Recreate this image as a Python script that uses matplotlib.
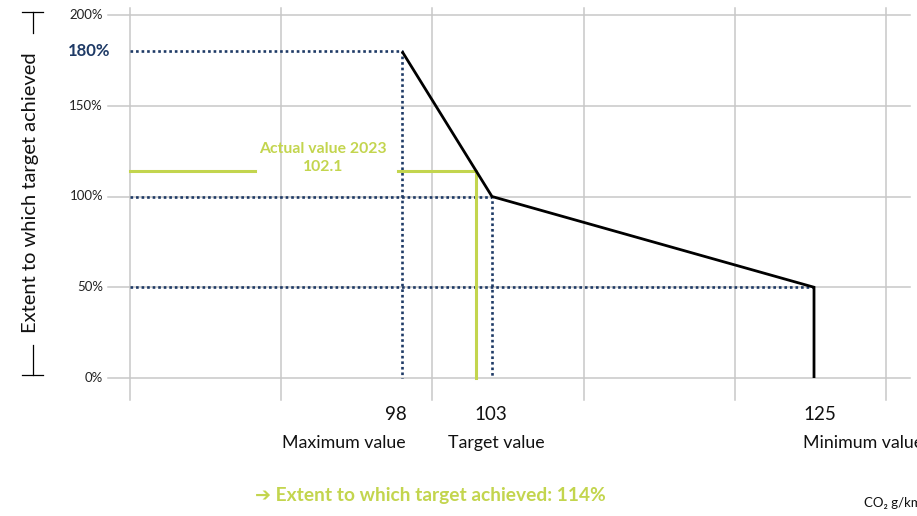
import numpy as np
import matplotlib
matplotlib.use("Agg")
from matplotlib import pyplot as plt
from matplotlib.lines import Line2D

plt.rcParams['font.family'] = ['Lato', 'DejaVu Sans']

# data
curve_x = [98, 103, 125, 125]          # CO2 g/km
curve_y = [180, 100, 50, 0]            # extent to which target achieved (%)
max_value, target_value, min_value = 98, 103, 125
max_pct, target_pct, min_pct = 180, 100, 50
actual_value = 102.1
actual_pct = 114
y_ticks = [0, 50, 100, 150, 200]
x_labels = ['Maximum value', 'Target value', 'Minimum value']

# the x axis is drawn schematically (not to scale): piecewise linear scale
# in "grid column" units, one unit per vertical gridline
XA = [60, 98, 103, 140]
UA = [-2.723, 1.799, 2.394, 5.976]


def fwd(v):
    return np.interp(v, XA, UA)


def inv(u):
    return np.interp(u, UA, XA)


W, H = 917, 516
fig = plt.figure(figsize=(W / 100, H / 100), dpi=100)
ax = fig.add_axes([0, 0, 1, 1])
ax.set_xscale('function', functions=(fwd, inv))
ax.set_xlim(inv(-130 / 151.2), inv((W - 130) / 151.2))
ax.set_ylim((378 - H) / 1.815, 378 / 1.815)
ax.axis('off')

grid_c = '#c8c8c8'
navy = '#1e3a66'
green = '#c3d54e'

# gridlines
x0 = inv(0)
for k in range(6):
    ax.plot([inv(k), inv(k)], [-12, 204], color=grid_c, lw=1.1, zorder=1)
for t in y_ticks:
    ax.plot([inv(-0.146), inv(5.16)], [t, t], color=grid_c, lw=1.1, zorder=1)

# dotted guides
dot = dict(color=navy, lw=1.9, ls=(0, (1, 1.1)), zorder=3)
ax.plot([x0, max_value, max_value], [max_pct, max_pct, 0], **dot)
ax.plot([x0, target_value, target_value], [target_pct, target_pct, 0], **dot)
ax.plot([x0, min_value], [min_pct, min_pct], **dot)

# actual value
ax.plot([x0, inv(0.827)], [actual_pct, actual_pct], color=green, lw=2.2, zorder=4)
ax.plot([inv(1.772), actual_value, actual_value], [actual_pct, actual_pct, 0],
        color=green, lw=2.2, zorder=4)

# curve
ax.plot(curve_x, curve_y, color='black', lw=2.0, zorder=5,
        solid_joinstyle='miter', solid_capstyle='butt')

# y tick labels
ytr = ax.get_yaxis_transform()
for t in y_ticks:
    ax.text(103 / W, t, f'{t}%', transform=ytr, ha='right', va='center',
            fontsize=9.5, color='#222222')
ax.text(110 / W, max_pct, f'{max_pct}%', transform=ytr, ha='right', va='center',
        fontsize=12, fontweight='bold', color=navy)

# x labels
xtr = ax.get_xaxis_transform()
specs = [(max_value, 'right', 5, 4), (target_value, 'center', -1, 4),
         (min_value, 'left', -11, -11)]
for (v, ha, dx_num, dx_lab), lab in zip(specs, x_labels):
    ax.annotate(str(v), xy=(v, 1 - 414 / H), xycoords=xtr, xytext=(dx_num, 0),
                textcoords='offset pixels', ha=ha, va='center', fontsize=13.5,
                color='#111111')
    ax.annotate(lab, xy=(v, 1 - 443 / H), xycoords=xtr, xytext=(dx_lab, 0),
                textcoords='offset pixels', ha=ha, va='center', fontsize=12.8,
                color='#111111')

fig.text(323 / W, 1 - 158 / H, f'Actual value 2023\n{actual_value}', ha='center',
         va='center', fontsize=11.3, fontweight='bold', color=green, linespacing=1.35)

fig.text(255 / W, 1 - 496 / H, f'➔ Extent to which target achieved: {actual_pct}%',
         ha='left', va='center', fontsize=13.8, fontweight='bold', color=green)
fig.text(864 / W, 1 - 503 / H, 'CO₂ g/km', ha='left', va='center', fontsize=9.5,
         color='#111111')

# y axis title with bracket marks
fig.text(31 / W, 1 - 193 / H, 'Extent to which target achieved', rotation=90,
         ha='center', va='center', fontsize=14.5, color='#111111')
for xs, ys in [([22, 43], [12, 12]), ([33, 33], [12, 33]),
               ([33, 33], [345, 375]), ([22, 43], [375, 375])]:
    fig.add_artist(Line2D([x / W for x in xs], [1 - y / H for y in ys],
                          color='black', lw=0.9))

plt.savefig('out.png', dpi=100)
